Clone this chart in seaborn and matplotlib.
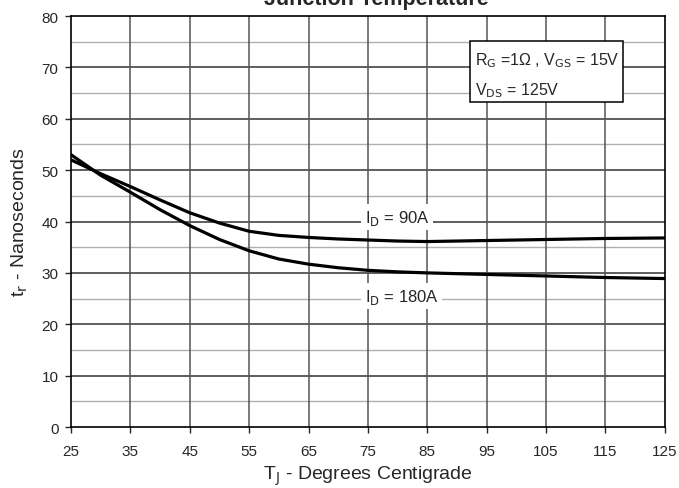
import matplotlib
matplotlib.use("Agg")
import matplotlib.pyplot as plt
from matplotlib.patches import Rectangle
import seaborn as sns
import numpy as np
import pandas as pd

# data
temps = [25, 30, 35, 40, 45, 50, 55, 60, 65, 70, 75, 80, 85, 95, 105, 115, 125]
tr_90a = [52.0, 49.3, 46.8, 44.2, 41.7, 39.7, 38.1, 37.3, 36.9, 36.6, 36.4, 36.2, 36.1, 36.3, 36.5, 36.7, 36.8]
tr_180a = [53.0, 49.0, 45.7, 42.3, 39.2, 36.5, 34.3, 32.7, 31.7, 31.0, 30.5, 30.2, 30.0, 29.7, 29.4, 29.1, 28.9]
x_ticks = list(range(25, 126, 10))
y_ticks = list(range(0, 81, 10))

df = pd.concat([
    pd.DataFrame({"T": temps, "tr": tr_90a, "ID": "90A"}),
    pd.DataFrame({"T": temps, "tr": tr_180a, "ID": "180A"}),
])

sns.set_style("white")
plt.rcParams['font.family'] = ['Liberation Sans', 'DejaVu Sans']

fig = plt.figure(figsize=(6.79, 4.89), dpi=100)
ax = fig.add_axes([0.1046, 0.1247, 0.8746, 0.8405])

# grid
for y in np.arange(5, 80, 10):
    ax.axhline(y, color="#b0b0b0", lw=1.0, zorder=0)
for y in y_ticks[1:-1]:
    ax.axhline(y, color="#333333", lw=1.1, zorder=0)
for x in x_ticks[1:-1]:
    ax.axvline(x, color="#555555", lw=1.1, zorder=0)

sns.lineplot(data=df, x="T", y="tr", hue="ID", palette=["black", "black"],
             linewidth=2.3, legend=False, ax=ax, zorder=3)

ax.set_xlim(25, 125)
ax.set_ylim(0, 80)
ax.set_xticks(x_ticks)
ax.set_yticks(y_ticks)
ax.tick_params(axis="both", labelsize=11, length=4, width=1, direction="out",
               bottom=True, left=True)
ax.tick_params(axis="x", pad=8)
ax.tick_params(axis="y", pad=5)
for s in ax.spines.values():
    s.set_color("black")
    s.set_linewidth(1.2)

ax.set_xlabel(r"T$_{\rm J}$ - Degrees Centigrade", fontsize=14, labelpad=4)
ax.set_ylabel(r"t$_{\rm r}$ - Nanoseconds", fontsize=14, labelpad=8)

fig.text(0.555, 1 - 5 / 489, "Junction Temperature", ha="center", va="baseline",
         fontsize=15.5, fontweight="bold")

ax.text(74.5, 40.8, r"I$_{\rm D}$ = 90A", fontsize=12, ha="left", va="center",
        bbox=dict(facecolor="white", edgecolor="none", pad=2.5), zorder=4)
ax.text(74.5, 25.5, r"I$_{\rm D}$ = 180A", fontsize=12, ha="left", va="center",
        bbox=dict(facecolor="white", edgecolor="none", pad=2.5), zorder=4)

ax.add_patch(Rectangle((0.672, 0.791), 0.257, 0.148, transform=ax.transAxes,
                       facecolor="white", edgecolor="black", lw=1.1, zorder=4))
ax.text(0.680, 0.893, r"R$_{\rm G}$ =1Ω , V$_{\rm GS}$ = 15V", transform=ax.transAxes,
        fontsize=11.5, ha="left", va="center", zorder=5)
ax.text(0.680, 0.822, r"V$_{\rm DS}$ = 125V", transform=ax.transAxes,
        fontsize=11.5, ha="left", va="center", zorder=5)

fig.savefig("out.png", dpi=100)
